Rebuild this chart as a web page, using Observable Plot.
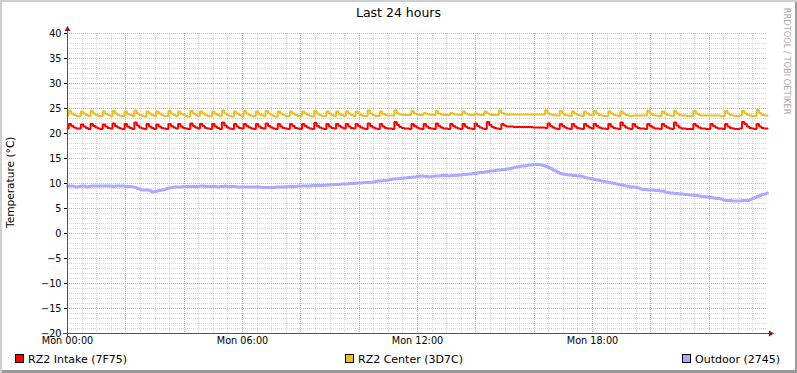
<!DOCTYPE html>
<html>
<head>
<meta charset="utf-8">
<script src="https://cdn.jsdelivr.net/npm/d3@7"></script>
<script src="https://cdn.jsdelivr.net/npm/@observablehq/plot@0.6"></script>
<style>
  html, body { margin: 0; padding: 0; background: #fff; }
  #wrap { position: relative; width: 797px; height: 373px; overflow: hidden; background: #fff; font-family: "DejaVu Sans", sans-serif; color: #000; }
  #wrap svg { position: absolute; left: 0; top: 0; }
  .txt { position: absolute; white-space: nowrap; line-height: 1; }
  .sw { position: absolute; width: 7px; height: 7px; border: 1px solid #000; }
  #frame { position: absolute; left: 0; top: 0; width: 797px; height: 373px; box-sizing: border-box;
           box-shadow: inset 2px 2px 0 #cfcfcf, inset -2px -3px 0 #9a9a9a; pointer-events: none; }
</style>
</head>
<body>
<div id="wrap"></div>
<script>
// ---- data: 5-minute samples, Mon 00:00 .. Tue 00:00 ----
const stepMinutes = 5;

const intake = [
  21.0,21.9,21.5,21.2,21.0,21.0,21.8,21.4,21.1,20.9,21.9,21.5,
  21.2,21.0,20.9,21.8,21.4,21.1,21.0,22.0,21.5,21.2,21.0,20.9,
  21.9,21.4,21.1,20.9,22.2,21.6,21.2,21.0,20.9,21.9,21.4,21.1,
  20.9,21.8,21.4,21.1,21.0,20.9,21.9,21.5,21.2,21.0,21.9,21.4,
  21.1,21.0,20.9,22.0,21.5,21.2,21.0,21.9,21.5,21.1,21.0,20.9,
  21.9,21.4,21.1,20.9,22.2,21.6,21.2,21.0,20.9,21.9,21.4,21.1,
  21.0,21.9,21.5,21.2,21.0,20.9,21.9,21.4,21.1,21.0,22.0,21.5,
  21.2,21.0,20.9,21.9,21.4,21.1,21.0,20.9,21.9,21.5,21.1,21.0,
  20.9,21.9,21.5,21.2,21.0,20.9,22.1,21.5,21.2,21.0,20.9,21.9,
  21.4,21.1,21.0,21.9,21.5,21.2,21.0,21.9,21.4,21.1,21.0,21.9,
  21.5,21.2,21.0,20.9,22.0,21.5,21.2,21.0,20.9,21.9,21.4,21.1,
  21.0,21.0,20.9,22.3,21.7,21.3,21.1,21.0,21.0,20.9,21.9,21.5,
  21.2,21.0,20.9,21.9,21.4,21.1,21.0,20.9,22.0,21.5,21.2,21.0,
  21.0,20.9,21.9,21.5,21.2,21.0,20.9,21.9,21.4,21.1,21.0,20.9,
  22.0,21.5,21.2,21.0,20.9,22.3,21.7,21.3,21.1,21.0,20.9,21.9,
  21.6,21.4,21.4,21.4,21.3,21.3,21.3,21.3,21.3,21.3,21.3,21.3,
  21.2,21.2,21.2,21.2,21.2,21.1,22.0,21.5,21.2,21.0,20.9,21.9,
  21.5,21.2,21.0,20.9,21.9,21.4,21.1,21.0,20.9,21.9,21.5,21.2,
  21.0,21.9,21.5,21.2,21.0,21.0,20.9,21.9,21.4,21.1,21.0,20.9,
  22.2,21.6,21.2,21.0,20.9,21.9,21.4,21.1,21.0,21.0,20.9,21.9,
  21.5,21.2,21.0,21.0,20.9,21.9,21.5,21.2,21.0,20.9,22.2,21.6,
  21.2,21.0,21.0,20.9,20.9,20.9,21.9,21.5,21.2,21.0,21.0,20.9,
  20.9,21.9,21.5,21.2,21.0,21.0,20.9,21.9,21.4,21.1,21.0,20.9,
  20.9,21.0,22.3,21.9,21.4,21.1,21.0,20.9,21.9,21.4,21.1,21.0,
  21.0
];

const center = [
  23.6,24.5,24.0,23.7,23.5,23.5,24.4,24.0,23.7,23.5,24.5,24.0,
  23.7,23.5,23.5,24.4,23.9,23.7,23.5,24.5,24.0,23.7,23.5,23.5,
  24.4,23.9,23.7,23.5,24.6,24.0,23.7,23.5,23.4,24.4,24.0,23.7,
  23.5,24.4,24.0,23.7,23.5,23.5,24.5,24.0,23.7,23.5,24.4,23.9,
  23.7,23.5,23.4,24.5,24.0,23.7,23.5,24.4,24.0,23.7,23.5,23.5,
  24.4,23.9,23.7,23.5,24.6,24.0,23.7,23.5,23.4,24.4,24.0,23.7,
  23.5,24.5,24.0,23.7,23.5,23.5,24.4,23.9,23.7,23.5,24.5,24.0,
  23.7,23.5,23.4,24.4,24.0,23.7,23.5,23.5,24.4,24.0,23.7,23.5,
  23.5,24.4,24.0,23.7,23.5,23.4,24.5,24.0,23.7,23.5,23.5,24.4,
  24.0,23.7,23.5,24.4,23.9,23.7,23.5,24.4,24.0,23.7,23.5,24.4,
  24.0,23.7,23.5,23.5,24.6,24.0,23.7,23.5,23.5,24.4,23.9,23.7,
  23.6,23.6,23.6,24.6,24.0,23.8,23.7,23.7,23.7,23.7,24.5,24.0,
  23.8,23.7,23.7,24.1,23.9,23.8,23.7,23.7,24.5,24.0,23.8,23.7,
  23.7,23.7,24.1,23.9,23.8,23.7,23.7,24.4,24.0,23.8,23.7,23.7,
  24.0,23.8,23.7,23.7,24.4,24.0,23.8,23.7,23.7,23.7,24.6,24.1,
  23.9,23.8,23.8,23.8,23.8,23.8,23.8,23.8,23.8,23.8,23.8,23.8,
  23.8,23.8,23.8,23.8,23.8,24.6,24.0,23.8,23.7,23.6,23.6,24.5,
  24.0,23.7,23.6,23.5,24.4,24.0,23.7,23.6,23.5,24.4,24.0,23.7,
  23.6,24.5,24.0,23.7,23.6,23.5,23.5,24.4,24.0,23.7,23.6,23.5,
  24.4,24.0,23.7,23.6,23.5,23.6,23.6,23.6,23.6,23.6,23.6,24.6,
  24.0,23.7,23.6,23.5,23.5,24.4,24.0,23.7,23.6,23.5,24.5,24.0,
  23.7,23.6,23.6,23.5,23.5,23.5,24.5,24.0,23.7,23.6,23.6,23.6,
  23.6,23.6,23.6,23.6,23.6,23.5,23.5,24.5,24.0,23.7,23.6,23.5,
  23.5,23.6,24.5,24.0,23.7,23.6,23.5,23.5,24.7,24.1,23.7,23.6,
  23.6
];

const outdoor = [
  9.5,9.5,9.5,9.4,9.3,9.4,9.5,9.5,9.3,9.4,9.5,9.5,
  9.5,9.5,9.5,9.5,9.5,9.5,9.5,9.4,9.5,9.5,9.5,9.5,
  9.4,9.4,9.4,9.3,9.2,9.0,8.8,8.7,8.7,8.7,8.6,8.3,
  8.4,8.5,8.6,8.7,8.8,9.0,9.1,9.2,9.3,9.3,9.3,9.3,
  9.4,9.4,9.4,9.4,9.4,9.4,9.4,9.5,9.5,9.4,9.4,9.4,
  9.4,9.4,9.3,9.4,9.4,9.5,9.4,9.4,9.4,9.4,9.3,9.3,
  9.3,9.3,9.3,9.3,9.3,9.3,9.3,9.3,9.2,9.2,9.2,9.2,
  9.2,9.2,9.3,9.3,9.3,9.3,9.3,9.4,9.4,9.4,9.4,9.5,
  9.5,9.5,9.5,9.5,9.5,9.6,9.6,9.6,9.6,9.6,9.6,9.7,
  9.7,9.8,9.8,9.8,9.8,9.9,9.9,9.9,10.0,10.0,10.0,10.1,
  10.1,10.1,10.2,10.2,10.2,10.2,10.3,10.4,10.5,10.5,10.6,10.6,
  10.7,10.8,10.9,10.9,11.0,11.0,11.1,11.1,11.2,11.2,11.3,11.3,
  11.4,11.5,11.5,11.4,11.4,11.3,11.4,11.5,11.5,11.5,11.6,11.6,
  11.6,11.5,11.6,11.6,11.6,11.7,11.7,11.8,11.8,11.9,11.9,12.0,
  12.0,12.1,12.2,12.2,12.3,12.4,12.5,12.5,12.6,12.7,12.7,12.8,
  12.8,12.9,13.0,13.1,13.2,13.3,13.4,13.5,13.5,13.6,13.7,13.7,
  13.8,13.8,13.8,13.7,13.6,13.4,13.2,13.0,12.7,12.5,12.2,12.0,
  11.9,11.8,11.7,11.7,11.6,11.6,11.5,11.5,11.4,11.2,11.1,11.0,
  10.9,10.8,10.7,10.6,10.5,10.4,10.3,10.2,10.1,10.0,9.9,9.8,
  9.7,9.6,9.5,9.4,9.3,9.3,9.2,9.1,8.9,8.8,8.8,8.7,
  8.7,8.7,8.6,8.6,8.5,8.5,8.3,8.2,8.1,8.1,8.0,8.0,
  7.9,7.9,7.8,7.8,7.7,7.7,7.6,7.6,7.5,7.4,7.4,7.3,
  7.2,7.2,7.1,7.0,7.0,6.9,6.7,6.6,6.6,6.6,6.5,6.5,
  6.5,6.5,6.6,6.6,6.6,6.8,7.0,7.2,7.4,7.6,7.8,7.9,
  8.1
];

const xTickMinutes = [0, 360, 720, 1080];
const xTickLabels = ["Mon 00:00", "Mon 06:00", "Mon 12:00", "Mon 18:00"];
const yTicks = [-20, -15, -10, -5, 0, 5, 10, 15, 20, 25, 30, 35, 40];
const seriesNames = ["RZ2 Intake (7F75)", "RZ2 Center (3D7C)", "Outdoor (2745)"];
const seriesColors = ["#ff0000", "#ebc020", "#aaaaff"];
const titleText = "Last 24 hours";
const yLabelText = "Temperature (°C)";
const watermarkText = "RRDTOOL / TOBI OETIKER";

// grid positions (layout helpers)
const minorY = d3.range(-20, 41, 1).filter(v => v % 5 !== 0);
const minorX = d3.range(0, 1440, 30).filter(v => v % 120 !== 0);
const majorX = d3.range(0, 1440, 120);

const minorColor = "#d6d6d6";
const majorColor = "#e6a3a3";
const axisColor = "#5a5050";
const arrowColor = "#8b1c1c";

const xOf = (d, i) => i * stepMinutes;

const plot = Plot.plot({
  width: 797, height: 373,
  marginLeft: 67, marginRight: 30, marginTop: 33, marginBottom: 40,
  style: { fontFamily: '"DejaVu Sans", sans-serif', fontSize: "9.7px", background: "transparent", color: "#000", overflow: "visible" },
  x: { type: "linear", domain: [0, 1440], ticks: xTickMinutes, tickFormat: d => xTickLabels[xTickMinutes.indexOf(d)], tickSize: 0, tickPadding: 4, label: null },
  y: { domain: [-20, 40], ticks: yTicks, tickSize: 3, tickPadding: 3, label: null },
  marks: [
    Plot.ruleY(minorY, { stroke: minorColor, strokeDasharray: "1,1" }),
    Plot.ruleX(minorX, { stroke: minorColor, strokeDasharray: "1,1" }),
    Plot.ruleY(yTicks, { stroke: majorColor, strokeDasharray: "1,1" }),
    Plot.ruleX(majorX, { stroke: majorColor, strokeDasharray: "1,1" }),
    Plot.line(intake, { x: xOf, y: d => d, stroke: seriesColors[0], strokeWidth: 2, curve: "step", strokeLinejoin: "miter" }),
    Plot.line(center, { x: xOf, y: d => d, stroke: seriesColors[1], strokeWidth: 2, curve: "step", strokeLinejoin: "miter" }),
    Plot.line(outdoor, { x: xOf, y: d => d, stroke: seriesColors[2], strokeWidth: 3, curve: "step", strokeLinejoin: "miter" })
  ]
});

const wrap = document.getElementById("wrap");
wrap.appendChild(plot);

// snap grid rules to whole pixels, as the reference renderer does
d3.select(plot).selectAll('g[aria-label="rule"] line').each(function () {
  const el = d3.select(this);
  ["x1", "x2", "y1", "y2"].forEach(a => {
    const v = el.attr(a);
    if (v != null) el.attr(a, Math.round(+v));
  });
});

// axes with arrows, positioned through the plot's scales
const sx = plot.scale("x"), sy = plot.scale("y");
const X0 = Math.round(sx.apply(0)), X1 = Math.round(sx.apply(1440));
const Y0 = Math.round(sy.apply(-20)), Y1 = Math.round(sy.apply(40));
const g = d3.select(plot).append("g");
g.append("line").attr("x1", X0 - 4).attr("x2", X1 + 3).attr("y1", Y0 + 0.5).attr("y2", Y0 + 0.5)
  .attr("stroke", axisColor).attr("stroke-width", 1);
g.append("line").attr("x1", X0 + 0.5).attr("x2", X0 + 0.5).attr("y1", Y0 + 3).attr("y2", Y1 - 2)
  .attr("stroke", axisColor).attr("stroke-width", 1);
g.append("path").attr("d", `M${X1 + 2},${Y0 - 2.5}L${X1 + 7},${Y0 + 0.5}L${X1 + 2},${Y0 + 3.5}Z`).attr("fill", arrowColor);
g.append("path").attr("d", `M${X0 - 2.5},${Y1 - 2}L${X0 + 0.5},${Y1 - 7}L${X0 + 3.5},${Y1 - 2}Z`).attr("fill", arrowColor);

// texts
function addText(str, css) {
  const d = document.createElement("div");
  d.className = "txt";
  d.textContent = str;
  Object.assign(d.style, css);
  wrap.appendChild(d);
  return d;
}
addText(titleText, { left: "0px", top: "7px", width: "797px", textAlign: "center", fontSize: "12.5px" });
addText(yLabelText, { left: "-90px", top: "177px", width: "200px", textAlign: "center", fontSize: "10.6px", transform: "rotate(-90deg)" });
addText(watermarkText, { left: "727px", top: "57px", width: "120px", textAlign: "center", fontSize: "8.3px", color: "#a6a6a6", transform: "rotate(90deg)" });

const legendX = [15, 345, 682];
seriesNames.forEach((name, i) => {
  const sw = document.createElement("div");
  sw.className = "sw";
  sw.style.left = legendX[i] + "px";
  sw.style.top = "354px";
  sw.style.background = seriesColors[i];
  wrap.appendChild(sw);
  addText(name, { left: (legendX[i] + 13) + "px", top: "354px", fontSize: "11px" });
});

const frame = document.createElement("div");
frame.id = "frame";
wrap.appendChild(frame);
</script>
</body>
</html>
